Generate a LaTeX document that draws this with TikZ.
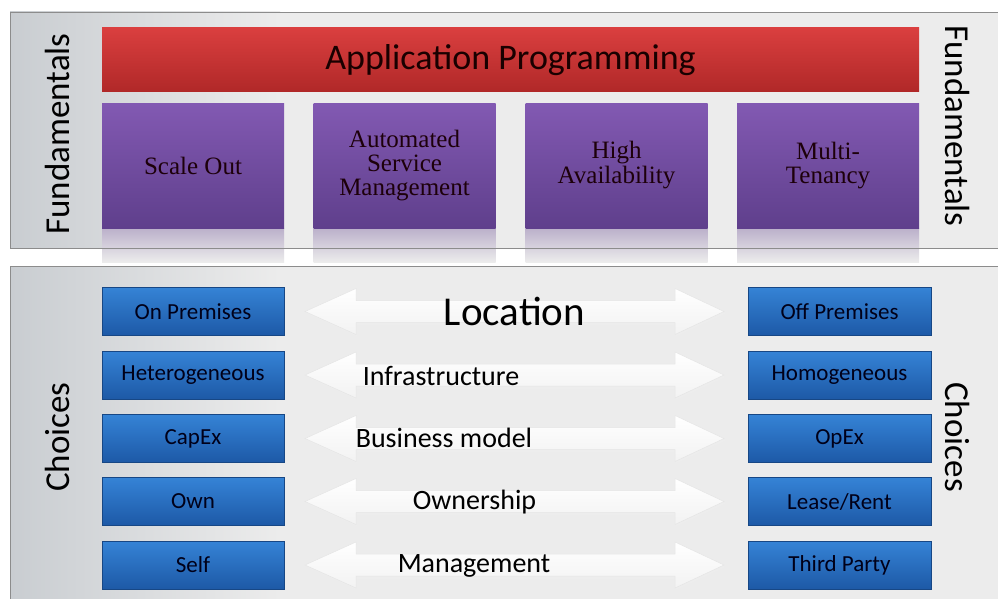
\documentclass[tikz,border=0pt]{standalone}
\usepackage{fontspec}
\setmainfont{Carlito}
\newfontfamily\cambriafont{Liberation Serif}
\begin{document}
\begin{tikzpicture}[x=1pt,y=-1pt,
  panel/.style={draw=black!45,line width=0.8pt},
  redbar/.style={draw=none,top color=redhi,bottom color=redlo,minimum width=817pt,minimum height=64pt,inner sep=0pt,font=\fontsize{36}{38}\selectfont,text=black!90!red},
  purplebox/.style={draw=none,top color=purplehi,bottom color=purplelo,minimum width=182pt,minimum height=124pt,inner sep=0pt,align=center,font=\cambriafont\fontsize{25}{24}\selectfont,text=black!85!purple},
  bluebox/.style={draw=bluelo!80!black,line width=0.4pt,top color=bluehi,bottom color=bluelo,minimum width=182pt,minimum height=48pt,inner sep=0pt,font=\fontsize{23}{24}\selectfont,text=black!90!blue},
  sidelabel/.style={font=\fontsize{35}{36}\selectfont,inner sep=0pt},
  midlabel/.style={font=\fontsize{28}{29}\selectfont,inner sep=0pt},
  arrowshape/.style={draw=black!10,line width=0.5pt,top color=white,bottom color=black!5}
]
\definecolor{purplehi}{HTML}{8259B2}
\definecolor{purplelo}{HTML}{5F3F8C}
\definecolor{bluehi}{HTML}{3583D6}
\definecolor{bluelo}{HTML}{1D59A6}
\definecolor{redhi}{HTML}{DA3F3F}
\definecolor{redlo}{HTML}{B02828}
\definecolor{panelbg}{HTML}{ECECEC}
\definecolor{panelleft}{HTML}{C9CDD1}
\useasboundingbox (0,0) rectangle (998,599);
\fill[white] (0,0) rectangle (998,599);
% panels
\fill[panelbg] (10,12) rectangle (1000,248);
\shade[left color=panelleft,right color=panelbg] (10,12) rectangle (280,248);
\fill[panelbg] (10,266) rectangle (1000,599);
\shade[left color=panelleft,right color=panelbg] (10,266) rectangle (280,599);
% reflections
\foreach \cx in {193,404.5,616.5,828}{
  \shade[top color=purplelo!35!panelbg,bottom color=panelbg] (\cx-91,228) rectangle (\cx+91,262);
}
\draw[panel] (1000,12) -- (10,12) -- (10,248) -- (1000,248);
\draw[panel] (10,599) -- (10,266) -- (1000,266);
% top
\node[redbar] (app) at (510.5,60) {Application Programming};
\node[purplebox] (scale) at (193,166) {Scale Out};
\node[purplebox] (asm) at (404.5,166) {\raisebox{-3pt}{\begin{tabular}{@{}c@{}}Automated\\Service\\Management\end{tabular}}};
\node[purplebox] (ha) at (616.5,166) {\raisebox{-2pt}{\begin{tabular}{@{}c@{}}High\\Availability\end{tabular}}};
\node[purplebox] (mt) at (828,166) {\raisebox{-2pt}{\begin{tabular}{@{}c@{}}Multi-\\Tenancy\end{tabular}}};
\node[sidelabel,rotate=90] (fundl) at (57,134) {Fundamentals};
\node[sidelabel,rotate=-90] (fundr) at (958,126) {Fundamentals};
% bottom
\node[sidelabel,rotate=90] (choicesl) at (57,437) {Choices};
\node[sidelabel,rotate=-90] (choicesr) at (958,437) {Choices};
\foreach \yc/\lt/\rt/\nm in {311.5/On Premises/Off Premises/loc,375/Heterogeneous/Homogeneous/inf,438.5/CapEx/OpEx/bus,501.5/Own/Lease\slash Rent/own,565/Self/Third Party/man}{
  \fill[black!7] (306,\yc+2) -- (357,\yc-21) -- (357,\yc-9) -- (676,\yc-9) -- (676,\yc-21) -- (726,\yc+2) -- (676,\yc+25) -- (676,\yc+14) -- (357,\yc+14) -- (357,\yc+25) -- cycle;
  \draw[arrowshape] (305,\yc) -- (356,\yc-23) -- (356,\yc-11) -- (675,\yc-11) -- (675,\yc-23) -- (724,\yc) -- (675,\yc+23) -- (675,\yc+11) -- (356,\yc+11) -- (356,\yc+23) -- cycle;
  \node[bluebox] (\nm l) at (193,\yc) {\lt};
  \node[bluebox,minimum width=183pt] (\nm r) at (839.5,\yc) {\rt};
}
\node[font=\fontsize{41}{42}\selectfont,inner sep=0pt] (location) at (514.5,311) {Location};
\node[midlabel] (infra) at (441,376) {Infrastructure};
\node[midlabel] (busmod) at (444,438) {Business model};
\node[midlabel] (ownership) at (474.5,502) {Ownership};
\node[midlabel] (management) at (474,566) {Management};
\end{tikzpicture}
\end{document}
